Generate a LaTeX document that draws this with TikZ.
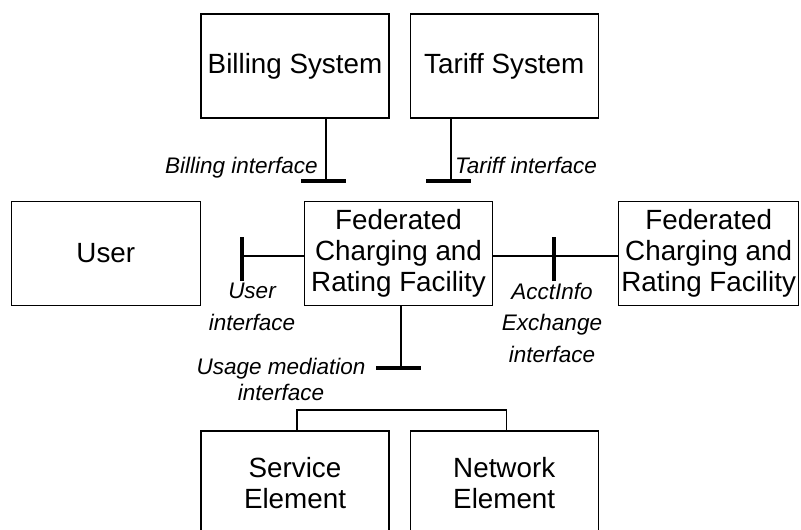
\documentclass[tikz,border=0pt]{standalone}
\usepackage{fontspec}
\setmainfont{Liberation Sans}
\usetikzlibrary{positioning}

\newcommand{\boxfont}{\fontsize{27.8}{31}\selectfont}
\newcommand{\iffont}{\itshape\fontsize{22.5}{31.5}\selectfont}

\tikzset{
  unitbox/.style={draw,line width=1.2pt,minimum width=188pt,minimum height=104pt,
    inner sep=0pt,align=center,font=\boxfont},
  link/.style={line width=1.2pt},
  ifbar/.style={line width=4pt},
  iflabel/.style={inner sep=0pt,align=center,font=\iffont}
}

\begin{document}
\begin{tikzpicture}[x=1pt,y=-1pt]
    \useasboundingbox (0,0) rectangle (801,530);
    \clip (0,0) rectangle (801,530);

    % boxes
    \node[unitbox] (billing) at (295,66) {Billing System};
    \node[unitbox,right=20pt of billing] (tariff) {Tariff System};
    \node[unitbox] (fcrf) at (398.5,253.5) {Federated\\Charging and\\Rating Facility};
    \node[unitbox,left=103pt of fcrf,minimum width=189pt] (user) {User};
    \node[unitbox,right=125pt of fcrf,minimum width=180pt] (peer) {Federated\\Charging and\\Rating Facility};
    \node[unitbox] (service) at (295,483) {Service\\Element};
    \node[unitbox,right=20pt of service] (network) {Network\\Element};

    % interface points
    \coordinate (billingif) at (326,181);
    \coordinate (tariffif) at (451,181);
    \coordinate (userif) at (242,256);
    \coordinate (acctif) at (554,256);
    \coordinate (usageif) at (401,368);
    \coordinate (elemjoin) at (398.5,410);

    % links
    \draw[link] (billing.south -| billingif) -- (billingif);
    \draw[link] (tariff.south -| tariffif) -- (tariffif);
    \draw[link] (userif) -- (fcrf.west |- userif);
    \draw[link] (fcrf.east |- acctif) -- (peer.west |- acctif);
    \draw[link] (fcrf.south -| usageif) -- (usageif);
    \draw[link] ([xshift=2pt]service.north) |- (elemjoin) -| ([xshift=2pt]network.north);

    % interface bars
    \draw[ifbar] ([xshift=-25pt]billingif) -- ([xshift=20pt]billingif);
    \draw[ifbar] ([xshift=-25pt]tariffif) -- ([xshift=20pt]tariffif);
    \draw[ifbar] ([yshift=-25pt]userif) -- ([yshift=19pt]userif);
    \draw[ifbar] ([yshift=-25pt]acctif) -- ([yshift=19pt]acctif);
    \draw[ifbar] ([xshift=-25pt]usageif) -- ([xshift=20pt]usageif);

    % labels (base = last line)
    \node[iflabel,anchor=base east] (billinglbl) at (318,173) {Billing interface};
    \node[iflabel,anchor=base west] (tarifflbl) at (455,173) {Tariff interface};
    \node[iflabel,anchor=base] (userlbl) at (252,330) {User\\interface};
    \node[iflabel,anchor=base] (acctlbl) at (552,362) {AcctInfo\\Exchange\\interface};
    \node[iflabel,anchor=base,font=\itshape\fontsize{22.5}{25.5}\selectfont] (usagelbl) at (281,400) {Usage mediation\\interface};
\end{tikzpicture}
\end{document}
